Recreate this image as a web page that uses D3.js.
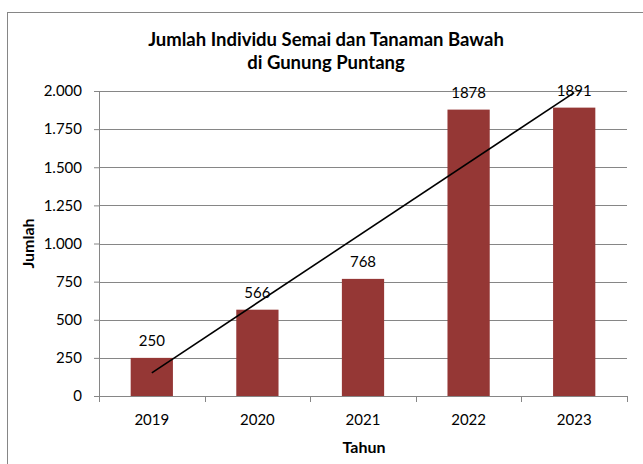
<!DOCTYPE html>
<html>
<head>
<meta charset="utf-8">
<script src="https://cdn.jsdelivr.net/npm/d3@7"></script>
<style>
  body { margin: 0; background: #fff; }
  text { font-family: Lato, "Open Sans", sans-serif; fill: #000; }
</style>
</head>
<body>
<div id="chart"></div>
<script>
const years = ['2019', '2020', '2021', '2022', '2023'];
const jumlah = [250, 566, 768, 1878, 1891];
const yTicks = [0, 250, 500, 750, 1000, 1250, 1500, 1750, 2000];
const titleLines = ['Jumlah Individu Semai dan Tanaman Bawah', 'di Gunung Puntang'];

const W = 643, H = 464;
const margin = { top: 91, right: 16, bottom: 68, left: 99 };
const width = W - margin.left - margin.right;
const height = H - margin.top - margin.bottom;

const svg = d3.select('#chart').append('svg')
  .attr('width', W)
  .attr('height', H);

// chart border (right/bottom fall outside the frame)
svg.append('rect')
  .attr('x', 7.5).attr('y', 12.5)
  .attr('width', W + 10).attr('height', H + 10)
  .attr('fill', 'none')
  .attr('stroke', '#868686');

svg.append('g').selectAll('text')
  .data(titleLines)
  .join('text')
    .attr('x', 326)
    .attr('y', (d, i) => 46 + i * 23)
    .attr('text-anchor', 'middle')
    .style('font-size', '18.5px')
    .style('font-weight', 'bold')
    .text(d => d);

const g = svg.append('g')
  .attr('transform', `translate(${margin.left},${margin.top})`);

const x = d3.scaleBand()
  .domain(years)
  .range([0, width])
  .paddingInner(0.6)
  .paddingOuter(0.3);

const y = d3.scaleLinear()
  .domain([0, 2000])
  .range([height, 0]);

const fmt = d3.formatLocale({ decimal: ',', thousands: '.', grouping: [3], currency: ['', ''] }).format(',');

// gridlines
g.append('g').selectAll('line')
  .data(yTicks)
  .join('line')
    .attr('x1', 0).attr('x2', width)
    .attr('y1', d => Math.round(y(d)) + 0.5)
    .attr('y2', d => Math.round(y(d)) + 0.5)
    .attr('stroke', '#868686');

// y axis
const yAxis = g.append('g')
  .call(d3.axisLeft(y).tickValues(yTicks).tickFormat(fmt).tickSize(5).tickPadding(12));
yAxis.select('.domain').attr('stroke', '#868686');
yAxis.selectAll('.tick line').attr('stroke', '#868686');
yAxis.selectAll('.tick text').style('font-size', '15px').style('font-family', 'Lato, sans-serif').attr('fill', '#000');

// bars
g.append('g').selectAll('rect')
  .data(years)
  .join('rect')
    .attr('x', d => x(d))
    .attr('y', (d, i) => y(jumlah[i]))
    .attr('width', x.bandwidth())
    .attr('height', (d, i) => height - y(jumlah[i]))
    .attr('fill', '#953735');

// x axis with ticks at category boundaries
const xAxisG = g.append('g').attr('transform', `translate(0,${height})`);
xAxisG.append('line')
  .attr('x1', 0).attr('x2', width)
  .attr('y1', 0.5).attr('y2', 0.5)
  .attr('stroke', '#868686');
xAxisG.selectAll('.bt')
  .data(d3.range(years.length + 1))
  .join('line')
    .attr('class', 'bt')
    .attr('x1', d => Math.round(d * width / years.length) + 0.5)
    .attr('x2', d => Math.round(d * width / years.length) + 0.5)
    .attr('y1', 0).attr('y2', 6)
    .attr('stroke', '#868686');
xAxisG.selectAll('.lbl')
  .data(years)
  .join('text')
    .attr('class', 'lbl')
    .attr('x', d => x(d) + x.bandwidth() / 2)
    .attr('y', 29)
    .attr('text-anchor', 'middle')
    .style('font-size', '15px')
    .text(d => d);

// data labels
g.append('g').selectAll('text')
  .data(years)
  .join('text')
    .attr('x', d => x(d) + x.bandwidth() / 2)
    .attr('y', (d, i) => y(jumlah[i]) - 12)
    .attr('text-anchor', 'middle')
    .style('font-size', '15px')
    .text((d, i) => jumlah[i]);

// linear trendline
const xs = years.map((d, i) => i + 1);
const mx = d3.mean(xs), my = d3.mean(jumlah);
const slope = d3.sum(xs, (v, i) => (v - mx) * (jumlah[i] - my)) / d3.sum(xs, v => (v - mx) ** 2);
const icpt = my - slope * mx;
const cx = d => x(d) + x.bandwidth() / 2;
g.append('line')
  .attr('x1', cx(years[0]))
  .attr('y1', y(icpt + slope * 1))
  .attr('x2', cx(years[years.length - 1]))
  .attr('y2', y(icpt + slope * years.length))
  .attr('stroke', '#000')
  .attr('stroke-width', 1.6);

// axis titles
svg.append('text')
  .attr('x', 364)
  .attr('y', 453)
  .attr('text-anchor', 'middle')
  .style('font-size', '16px')
  .style('font-weight', 'bold')
  .text('Tahun');

svg.append('text')
  .attr('transform', `translate(34,${margin.top + height / 2}) rotate(-90)`)
  .attr('text-anchor', 'middle')
  .style('font-size', '16px')
  .style('font-weight', 'bold')
  .text('Jumlah');
</script>
</body>
</html>
